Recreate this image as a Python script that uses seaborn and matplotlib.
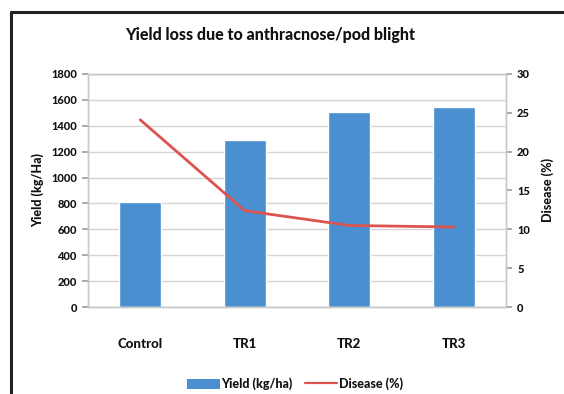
import matplotlib
matplotlib.use("Agg")
import matplotlib.pyplot as plt
from matplotlib.patches import Patch
from matplotlib.lines import Line2D
import seaborn as sns
import pandas as pd

treatments = ["Control", "TR1", "TR2", "TR3"]
yield_kg_ha = [810, 1290, 1505, 1548]
disease_pct = [24.1, 12.4, 10.5, 10.3]

BAR_COLOR = "#4a8fcf"
LINE_COLOR = "#dc534f"
GRID_COLOR = "#d4d4d4"
TEXT_COLOR = "#111111"
WEIGHT = "black"

sns.set_theme(style="white")
plt.rcParams["font.family"] = ["Lato", "DejaVu Sans"]
plt.rcParams["font.weight"] = WEIGHT
plt.rcParams["text.color"] = TEXT_COLOR
plt.rcParams["axes.labelcolor"] = TEXT_COLOR
plt.rcParams["xtick.color"] = TEXT_COLOR
plt.rcParams["ytick.color"] = TEXT_COLOR

df = pd.DataFrame({"Treatment": treatments,
                   "Yield": yield_kg_ha,
                   "Disease": disease_pct})

fig = plt.figure(figsize=(5.64, 3.94), dpi=100)
fig.patch.set_facecolor("white")

# chart frame (top and left edges)
fig.add_artist(Line2D([11/564, 11/564], [0, 1 - 12/394], color="#222222", lw=2.2,
                      transform=fig.transFigure))
fig.add_artist(Line2D([11/564, 1], [1 - 12/394, 1 - 12/394], color="#222222", lw=2.2,
                      transform=fig.transFigure))

ax = fig.add_axes([88/564, 1 - 307/394, (506 - 88)/564, (307 - 74)/394])
sns.barplot(data=df, x="Treatment", y="Yield", color=BAR_COLOR, width=0.4,
            saturation=1, ax=ax, zorder=2)
ax.set_xlim(-0.5, 3.5)
ax.set_ylim(0, 1800)
ax.set_yticks(range(0, 1801, 200))
ax.yaxis.grid(True, color=GRID_COLOR, lw=1)
ax.set_axisbelow(True)
ax.set_xlabel("")
ax.set_ylabel("Yield (kg/Ha)", fontsize=9, fontweight=WEIGHT, labelpad=5)

ax2 = ax.twinx()
sns.lineplot(x=[0, 1, 2, 3], y=df["Disease"], color=LINE_COLOR, lw=2,
             ax=ax2, sort=False)
ax2.set_ylim(0, 30)
ax2.set_yticks(range(0, 31, 5))
ax2.set_ylabel("Disease (%)", fontsize=9, fontweight=WEIGHT, labelpad=8)

for a in (ax, ax2):
    for side in ("top", "right", "left", "bottom"):
        a.spines[side].set_visible(True)
        a.spines[side].set_color("#c8c8c8")
        a.spines[side].set_linewidth(1)
    a.tick_params(axis="y", length=4, color="#a0a0a0", labelsize=8, pad=4,
                  labelcolor=TEXT_COLOR)

ax.tick_params(axis="x", length=0, labelsize=9.5, pad=22, labelcolor=TEXT_COLOR)
ax.set_xticks(range(4))
ax.set_xticklabels(treatments, fontweight=WEIGHT)
ax.set_xticks([-0.5, 0.5, 1.5, 2.5, 3.5], minor=True)
ax.tick_params(axis="x", which="minor", length=4, color="#a0a0a0")
for lab in ax.get_yticklabels() + ax2.get_yticklabels():
    lab.set_fontweight(WEIGHT)

fig.text(270/564, 1 - 35/394, "Yield loss due to anthracnose/pod blight",
         ha="center", va="center", fontsize=11.5, fontweight=WEIGHT)

handles = [Patch(facecolor=BAR_COLOR, edgecolor="none"),
           Line2D([0], [0], color=LINE_COLOR, lw=1.6)]
fig.legend(handles, ["Yield (kg/ha)", "Disease (%)"], loc="center",
           bbox_to_anchor=(295/564, 1 - 384/394), ncol=2, frameon=False,
           fontsize=9, handlelength=2.6, handleheight=0.9,
           columnspacing=1.0, handletextpad=0.1,
           prop={"weight": WEIGHT, "size": 9})

fig.savefig("out.png", dpi=100, facecolor="white")
